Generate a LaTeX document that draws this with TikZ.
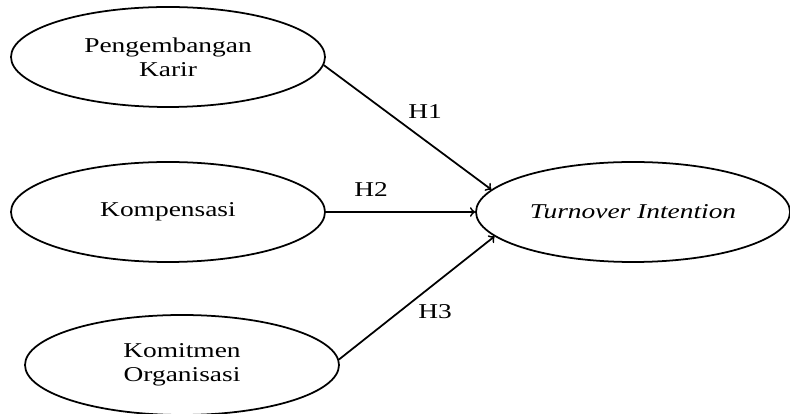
\documentclass[tikz,border=0pt]{standalone}
\usepackage{fontspec}
\setmainfont{Liberation Serif}[FakeStretch=1.3]
\usetikzlibrary{shapes.geometric}
\tikzset{
	var/.style={draw,ellipse,minimum width=6.28cm,minimum height=2cm,inner sep=0pt,align=center,font=\fontsize{12}{13.8}\selectfont},
	hyp/.style={font=\fontsize{12}{13.8}\selectfont}
}
\begin{document}
\begin{tikzpicture}[line width=1pt]
		\useasboundingbox (0,0) rectangle (15.8,8.26);
		\node [var] (pk) at (3.36,7.12) {Pengembangan\\Karir};
		\node [var] (kp) at (3.36,4.02) {Kompensasi};
		\node [var] (ko) at (3.64,0.96) {Komitmen\\Organisasi};
		\node [var] (ti) at (12.66,4.02) {\textit{Turnover Intention}};
		
		\draw [->] (pk.-3) -- (ti.171);
		\draw [->] (kp.east) -- (ti.west);
		\draw [->] (ko.2.5) -- (ti.190);
		
		\node [hyp] (h1) at (8.5,6.02) {H1};
		\node [hyp] (h2) at (7.42,4.46) {H2};
		\node [hyp] (h3) at (8.7,2.02) {H3};
	\end{tikzpicture}
\end{document}
